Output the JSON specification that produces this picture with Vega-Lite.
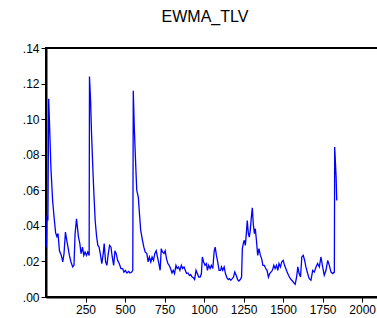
{
  "$schema": "https://vega.github.io/schema/vega-lite/v6.json",
  "width": 332,
  "height": 249,
  "autosize": {"type": "none"},
  "padding": {"left": 46, "top": 48, "right": 0, "bottom": 21},
  "background": "white",
  "title": {"text": "EWMA_TLV", "font": "Liberation Sans", "fontSize": 16, "fontWeight": "normal", "color": "black", "anchor": "middle", "dx": -7, "offset": 17},
  "config": {
    "view": {"stroke": "black", "strokeWidth": 2},
    "axis": {"labelFont": "Liberation Sans", "labelFontSize": 12, "labelColor": "black", "domainColor": "black", "domainWidth": 2, "tickColor": "black", "tickWidth": 1, "tickSize": 5, "grid": false, "title": null, "labelPadding": 2}
  },
  "data": {"values": [
    {"t":1,"v":0.033},{"t":2,"v":0.028},{"t":6,"v":0.046},{"t":12,"v":0.043},{"t":17,"v":0.1115},{"t":23,"v":0.0955},{"t":31,"v":0.073},{"t":42,"v":0.054},{"t":53,"v":0.043},{"t":61,"v":0.036},{"t":69,"v":0.034},{"t":76,"v":0.0357},{"t":85,"v":0.026},{"t":97,"v":0.0234},{"t":106,"v":0.0197},{"t":114,"v":0.0244},{"t":123,"v":0.0365},{"t":131,"v":0.032},{"t":139,"v":0.028},{"t":148,"v":0.0234},{"t":158,"v":0.0197},{"t":169,"v":0.0169},{"t":177,"v":0.0178},{"t":184,"v":0.0356},{"t":193,"v":0.044},{"t":199,"v":0.039},{"t":205,"v":0.034},{"t":214,"v":0.030},{"t":222,"v":0.0244},{"t":231,"v":0.028},{"t":239,"v":0.0234},{"t":247,"v":0.0253},{"t":256,"v":0.0234},{"t":264,"v":0.0253},{"t":273,"v":0.0234},{"t":275,"v":0.124},{"t":282,"v":0.1105},{"t":288,"v":0.092},{"t":296,"v":0.073},{"t":303,"v":0.058},{"t":311,"v":0.043},{"t":320,"v":0.034},{"t":328,"v":0.029},{"t":336,"v":0.028},{"t":345,"v":0.0234},{"t":353,"v":0.0188},{"t":362,"v":0.0244},{"t":368,"v":0.030},{"t":377,"v":0.0197},{"t":385,"v":0.0178},{"t":394,"v":0.0244},{"t":402,"v":0.029},{"t":411,"v":0.028},{"t":419,"v":0.0225},{"t":428,"v":0.0178},{"t":436,"v":0.026},{"t":444,"v":0.0244},{"t":453,"v":0.0206},{"t":463,"v":0.0188},{"t":474,"v":0.016},{"t":485,"v":0.016},{"t":493,"v":0.014},{"t":502,"v":0.015},{"t":512,"v":0.0135},{"t":523,"v":0.0144},{"t":531,"v":0.0135},{"t":542,"v":0.014},{"t":549,"v":0.015},{"t":552,"v":0.116},{"t":559,"v":0.0937},{"t":568,"v":0.073},{"t":574,"v":0.060},{"t":584,"v":0.056},{"t":591,"v":0.047},{"t":599,"v":0.0375},{"t":610,"v":0.032},{"t":619,"v":0.028},{"t":627,"v":0.0253},{"t":638,"v":0.0244},{"t":646,"v":0.0197},{"t":654,"v":0.0225},{"t":663,"v":0.0197},{"t":671,"v":0.0225},{"t":680,"v":0.0206},{"t":688,"v":0.0244},{"t":697,"v":0.026},{"t":705,"v":0.0225},{"t":714,"v":0.0188},{"t":722,"v":0.015},{"t":729,"v":0.0272},{"t":737,"v":0.0253},{"t":746,"v":0.0244},{"t":754,"v":0.026},{"t":762,"v":0.0216},{"t":771,"v":0.0188},{"t":779,"v":0.0178},{"t":788,"v":0.016},{"t":797,"v":0.0135},{"t":805,"v":0.015},{"t":813,"v":0.0132},{"t":822,"v":0.0178},{"t":830,"v":0.016},{"t":838,"v":0.0169},{"t":847,"v":0.015},{"t":856,"v":0.0178},{"t":864,"v":0.016},{"t":873,"v":0.0169},{"t":881,"v":0.015},{"t":889,"v":0.0132},{"t":898,"v":0.0135},{"t":907,"v":0.0122},{"t":915,"v":0.0126},{"t":924,"v":0.0112},{"t":932,"v":0.0109},{"t":940,"v":0.0098},{"t":949,"v":0.015},{"t":957,"v":0.0132},{"t":966,"v":0.0112},{"t":975,"v":0.0112},{"t":983,"v":0.0132},{"t":989,"v":0.0225},{"t":997,"v":0.0197},{"t":1006,"v":0.0178},{"t":1015,"v":0.0188},{"t":1021,"v":0.015},{"t":1029,"v":0.0178},{"t":1038,"v":0.016},{"t":1046,"v":0.0178},{"t":1055,"v":0.016},{"t":1064,"v":0.026},{"t":1070,"v":0.028},{"t":1078,"v":0.0234},{"t":1086,"v":0.0197},{"t":1095,"v":0.015},{"t":1104,"v":0.015},{"t":1110,"v":0.0169},{"t":1118,"v":0.015},{"t":1127,"v":0.0169},{"t":1135,"v":0.0132},{"t":1144,"v":0.0109},{"t":1153,"v":0.0098},{"t":1161,"v":0.0103},{"t":1169,"v":0.0094},{"t":1178,"v":0.0103},{"t":1186,"v":0.0112},{"t":1194,"v":0.014},{"t":1203,"v":0.0122},{"t":1212,"v":0.0098},{"t":1220,"v":0.009},{"t":1229,"v":0.0098},{"t":1237,"v":0.0112},{"t":1242,"v":0.0272},{"t":1248,"v":0.030},{"t":1254,"v":0.0319},{"t":1261,"v":0.029},{"t":1267,"v":0.0356},{"t":1273,"v":0.043},{"t":1280,"v":0.0356},{"t":1286,"v":0.0337},{"t":1292,"v":0.0375},{"t":1299,"v":0.045},{"t":1305,"v":0.0502},{"t":1311,"v":0.0412},{"t":1318,"v":0.0356},{"t":1324,"v":0.0384},{"t":1331,"v":0.0319},{"t":1339,"v":0.0234},{"t":1347,"v":0.0272},{"t":1356,"v":0.0234},{"t":1364,"v":0.0216},{"t":1372,"v":0.0178},{"t":1381,"v":0.0178},{"t":1390,"v":0.016},{"t":1398,"v":0.015},{"t":1407,"v":0.0112},{"t":1415,"v":0.0132},{"t":1423,"v":0.014},{"t":1432,"v":0.015},{"t":1441,"v":0.0178},{"t":1449,"v":0.016},{"t":1458,"v":0.0178},{"t":1466,"v":0.015},{"t":1474,"v":0.0188},{"t":1483,"v":0.0169},{"t":1491,"v":0.0197},{"t":1500,"v":0.0206},{"t":1509,"v":0.0178},{"t":1517,"v":0.016},{"t":1525,"v":0.014},{"t":1534,"v":0.0122},{"t":1542,"v":0.0109},{"t":1550,"v":0.0098},{"t":1559,"v":0.009},{"t":1568,"v":0.0079},{"t":1576,"v":0.0071},{"t":1585,"v":0.0112},{"t":1593,"v":0.0169},{"t":1601,"v":0.0132},{"t":1610,"v":0.0112},{"t":1618,"v":0.0225},{"t":1627,"v":0.0234},{"t":1636,"v":0.0206},{"t":1644,"v":0.0169},{"t":1655,"v":0.0132},{"t":1665,"v":0.0103},{"t":1676,"v":0.0094},{"t":1687,"v":0.015},{"t":1697,"v":0.014},{"t":1708,"v":0.0169},{"t":1718,"v":0.0188},{"t":1729,"v":0.0169},{"t":1739,"v":0.0225},{"t":1750,"v":0.0169},{"t":1760,"v":0.0122},{"t":1771,"v":0.015},{"t":1782,"v":0.0206},{"t":1792,"v":0.0178},{"t":1803,"v":0.014},{"t":1814,"v":0.0132},{"t":1824,"v":0.014},{"t":1826,"v":0.0843},{"t":1835,"v":0.0674},{"t":1839,"v":0.0543}
  ]},
  "mark": {"type": "line", "color": "#0000ff", "strokeWidth": 1.3, "clip": true},
  "encoding": {
    "x": {"field": "t", "type": "quantitative", "scale": {"domain": [0, 2100], "nice": false, "zero": false}, "axis": {"values": [250, 500, 750, 1000, 1250, 1500, 1750, 2000], "format": "d", "labelFlush": false}},
    "y": {"field": "v", "type": "quantitative", "scale": {"domain": [0, 0.14], "nice": false}, "axis": {"values": [0, 0.02, 0.04, 0.06, 0.08, 0.1, 0.12, 0.14], "labelExpr": "substring(format(datum.value, '.2f'), 1)", "labelFlush": false}}
  }
}
